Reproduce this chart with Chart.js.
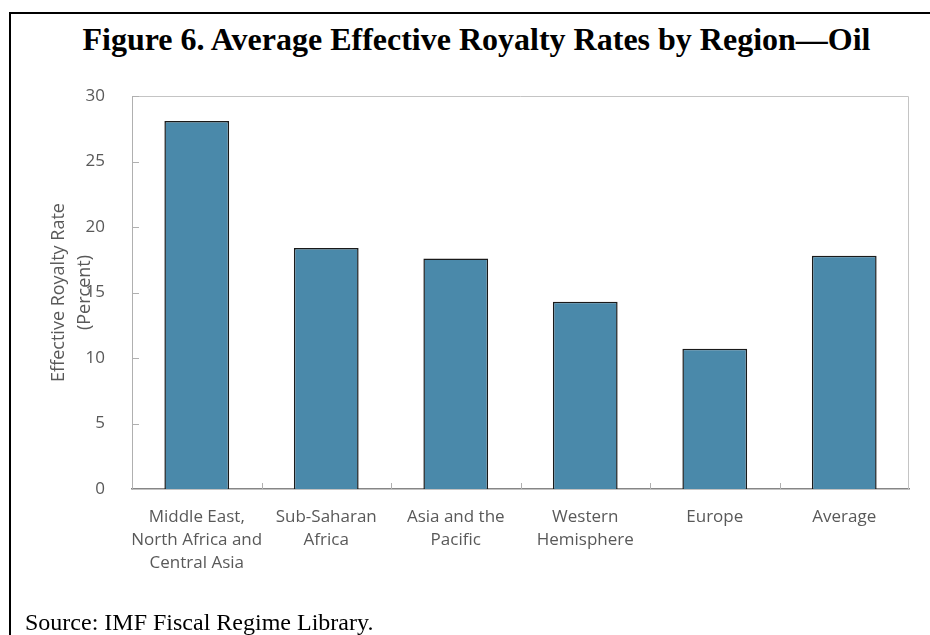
<!DOCTYPE html>
<html>
<head>
<meta charset="utf-8">
<script src="https://cdn.jsdelivr.net/npm/chart.js@4.4.0/dist/chart.umd.min.js"></script>
<style>
  body { margin: 0; background: #fff; }
  #wrap { position: relative; width: 930px; height: 635px; overflow: hidden; }
  #frame { position: absolute; left: 9px; top: 12px; right: -10px; bottom: -10px;
           border-left: 2px solid #000; border-top: 2px solid #000; }
  #title { position: absolute; left: 0; width: 953px; top: 21px; text-align: center;
           font: bold 32px/36px "Liberation Serif", "Times New Roman", serif; white-space: nowrap; }
  #source { position: absolute; left: 25px; top: 608px;
            font: 24px/28px "Liberation Serif", "Times New Roman", serif; white-space: nowrap; }
  canvas { position: absolute; left: 0; top: 0; }
</style>
</head>
<body>
<div id="wrap">
  <div id="frame"></div>
  <div id="title">Figure 6. Average Effective Royalty Rates by Region—Oil</div>
  <canvas id="chart" width="930" height="635"></canvas>
  <div id="source">Source: IMF Fiscal Regime Library.</div>
</div>
<script>
const regions = [
  ['Middle East,', 'North Africa and', 'Central Asia'],
  ['Sub-Saharan', 'Africa'],
  ['Asia and the', 'Pacific'],
  ['Western', 'Hemisphere'],
  'Europe',
  'Average'
];
const royaltyRates = [28.1, 18.4, 17.6, 14.3, 10.7, 17.8];
const yTicks = [0, 5, 10, 15, 20, 25, 30];

const labelGray = '#595959';
const family = '"Open Sans", sans-serif';

// plot area border on top/right, plus the short inward tick marks
const plotFrame = {
  id: 'plotFrame',
  beforeDatasetsDraw(chart) {
    const { ctx, chartArea: a, scales: { x, y } } = chart;
    ctx.save();
    ctx.strokeStyle = '#c4c4c4';
    ctx.lineWidth = 1;
    ctx.beginPath();
    ctx.moveTo(a.left, a.top + 0.5);
    ctx.lineTo(a.right - 0.5, a.top + 0.5);
    ctx.lineTo(a.right - 0.5, a.bottom);
    ctx.stroke();

    ctx.strokeStyle = '#b0b0b0';
    ctx.beginPath();
    y.ticks.forEach(t => {
      if (t.value === 0) return;
      const py = Math.round(y.getPixelForValue(t.value)) + 0.5;
      ctx.moveTo(a.left, py);
      ctx.lineTo(a.left + 7, py);
    });
    for (let i = 1; i < regions.length; i++) {
      const px = Math.round((x.getPixelForValue(i - 1) + x.getPixelForValue(i)) / 2) + 0.5;
      ctx.moveTo(px, a.bottom);
      ctx.lineTo(px, a.bottom - 6);
    }
    ctx.stroke();
    ctx.restore();
  }
};

new Chart(document.getElementById('chart'), {
  type: 'bar',
  data: {
    labels: regions,
    datasets: [{
      data: royaltyRates,
      backgroundColor: '#4A89AA',
      borderColor: '#1a1a1a',
      borderWidth: 1.5,
      barPercentage: 0.5,
      categoryPercentage: 1
    }]
  },
  options: {
    responsive: false,
    animation: false,
    layout: { padding: { top: 96, right: 21, left: 0, bottom: 0 } },
    plugins: { legend: { display: false }, tooltip: { enabled: false } },
    scales: {
      x: {
        z: 1,
        grid: { display: false },
        border: { color: '#868686', width: 1.5 },
        ticks: { color: labelGray, font: { family, size: 17, lineHeight: 1.38 }, padding: 8, maxRotation: 0, autoSkip: false },
        afterFit(scale) { scale.height = 146; }
      },
      y: {
        min: 0,
        max: 30,
        afterBuildTicks(scale) { scale.ticks = yTicks.map(v => ({ value: v })); },
        grid: { display: false },
        border: { color: '#b0b0b0', width: 1 },
        ticks: { color: labelGray, font: { family, size: 17 }, padding: 19 },
        title: {
          display: true,
          text: ['Effective Royalty Rate', '(Percent)'],
          color: labelGray,
          font: { family, size: 18, lineHeight: 1.45 },
          padding: { top: 46, bottom: 0 }
        },
        afterFit(scale) { scale.width = 132; }
      }
    }
  },
  plugins: [plotFrame]
});
</script>
</body>
</html>
